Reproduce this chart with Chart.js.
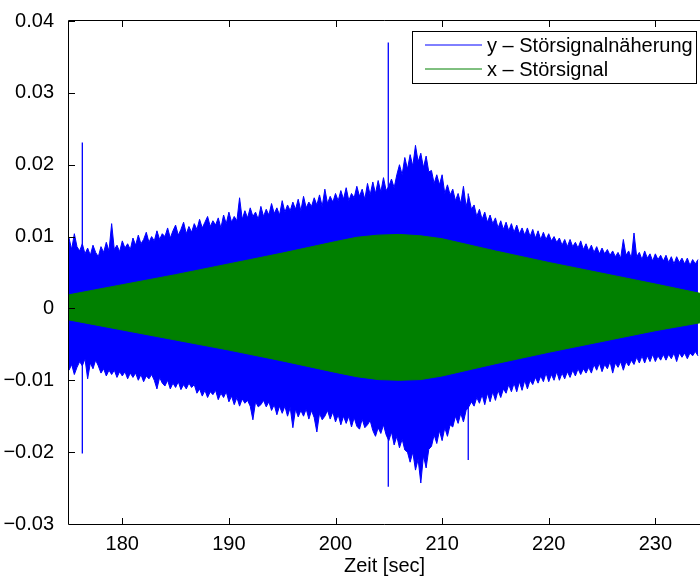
<!DOCTYPE html>
<html>
<head>
<meta charset="utf-8">
<script src="https://cdn.jsdelivr.net/npm/chart.js@4.4.1/dist/chart.umd.min.js"></script>
<style>
  html, body { margin: 0; padding: 0; background: #fff; }
  #wrap { width: 700px; height: 576px; }
</style>
</head>
<body>
<div id="wrap"><canvas id="signalChart"></canvas></div>
<script>
// y (Störsignalnäherung): upper / lower envelope, one row per second, 0.25 s steps
const sampleStart = 175;
const sampleStep = 0.25;
const blueTop = [
  0.0098, 0.0082, 0.0104, 0.0086,  // 175
  0.0080, 0.0090, 0.0076, 0.0084,
  0.0074, 0.0088, 0.0078, 0.0072,
  0.0086, 0.0078, 0.0092, 0.0080,
  0.0118, 0.0082, 0.0088, 0.0079,
  0.0094, 0.0084, 0.0090, 0.0082,  // 180
  0.0098, 0.0088, 0.0102, 0.0090,
  0.0096, 0.0106, 0.0092, 0.0100,
  0.0094, 0.0108, 0.0096, 0.0104,
  0.0100, 0.0112, 0.0098, 0.0108,
  0.0116, 0.0102, 0.0110, 0.0120,  // 185
  0.0104, 0.0114, 0.0106, 0.0118,
  0.0110, 0.0124, 0.0112, 0.0120,
  0.0128, 0.0114, 0.0122, 0.0116,
  0.0126, 0.0112, 0.0130, 0.0118,
  0.0134, 0.0120, 0.0128, 0.0122,  // 190
  0.0154, 0.0124, 0.0136, 0.0126,
  0.0140, 0.0128, 0.0134, 0.0124,
  0.0142, 0.0128, 0.0138, 0.0130,
  0.0146, 0.0132, 0.0140, 0.0130,
  0.0150, 0.0134, 0.0144, 0.0136,  // 195
  0.0148, 0.0138, 0.0152, 0.0136,
  0.0156, 0.0140, 0.0148, 0.0142,
  0.0154, 0.0144, 0.0158, 0.0142,
  0.0166, 0.0146, 0.0156, 0.0148,
  0.0160, 0.0150, 0.0164, 0.0152,  // 200
  0.0168, 0.0150, 0.0160, 0.0154,
  0.0170, 0.0156, 0.0166, 0.0152,
  0.0174, 0.0158, 0.0176, 0.0160,
  0.0178, 0.0162, 0.0182, 0.0164,
  0.0170, 0.0180, 0.0168, 0.0186,  // 205
  0.0200, 0.0186, 0.0210, 0.0194,
  0.0214, 0.0198, 0.0227, 0.0204,
  0.0216, 0.0196, 0.0212, 0.0190,
  0.0192, 0.0174, 0.0186, 0.0172,
  0.0186, 0.0160, 0.0172, 0.0158,  // 210
  0.0166, 0.0150, 0.0160, 0.0146,
  0.0170, 0.0142, 0.0156, 0.0138,
  0.0144, 0.0128, 0.0138, 0.0124,
  0.0134, 0.0120, 0.0130, 0.0118,
  0.0126, 0.0112, 0.0122, 0.0110,  // 215
  0.0120, 0.0108, 0.0118, 0.0106,
  0.0116, 0.0104, 0.0112, 0.0102,
  0.0112, 0.0100, 0.0110, 0.0098,
  0.0108, 0.0096, 0.0106, 0.0096,
  0.0104, 0.0094, 0.0100, 0.0092,  // 220
  0.0098, 0.0088, 0.0096, 0.0086,
  0.0096, 0.0086, 0.0092, 0.0084,
  0.0094, 0.0082, 0.0090, 0.0080,
  0.0088, 0.0078, 0.0086, 0.0076,
  0.0084, 0.0076, 0.0082, 0.0074,  // 225
  0.0080, 0.0072, 0.0078, 0.0070,
  0.0096, 0.0074, 0.0080, 0.0070,
  0.0105, 0.0072, 0.0078, 0.0068,
  0.0080, 0.0070, 0.0076, 0.0066,
  0.0076, 0.0068, 0.0074, 0.0066,  // 230
  0.0074, 0.0064, 0.0072, 0.0062,
  0.0072, 0.0064, 0.0070, 0.0062,
  0.0070, 0.0060, 0.0068, 0.0062,
  0.0068                           // 234
];
const blueBottom = [
  -0.0086, -0.0078, -0.0092, -0.0082,  // 175
  -0.0074, -0.0080, -0.0070, -0.0098,
  -0.0076, -0.0084, -0.0072, -0.0080,
  -0.0090, -0.0084, -0.0094, -0.0086,
  -0.0092, -0.0086, -0.0096, -0.0088,
  -0.0094, -0.0088, -0.0098, -0.0090,  // 180
  -0.0096, -0.0090, -0.0100, -0.0092,
  -0.0102, -0.0094, -0.0098, -0.0092,
  -0.0100, -0.0112, -0.0096, -0.0104,
  -0.0108, -0.0100, -0.0112, -0.0104,
  -0.0110, -0.0102, -0.0113, -0.0106,  // 185
  -0.0112, -0.0104, -0.0110, -0.0106,
  -0.0118, -0.0112, -0.0122, -0.0114,
  -0.0124, -0.0116, -0.0120, -0.0114,
  -0.0127, -0.0118, -0.0124, -0.0116,
  -0.0130, -0.0122, -0.0134, -0.0124,  // 190
  -0.0136, -0.0126, -0.0132, -0.0128,
  -0.0136, -0.0155, -0.0130, -0.0137,
  -0.0134, -0.0128, -0.0137, -0.0130,
  -0.0142, -0.0134, -0.0148, -0.0136,
  -0.0146, -0.0136, -0.0150, -0.0138,  // 195
  -0.0166, -0.0140, -0.0151, -0.0142,
  -0.0150, -0.0140, -0.0154, -0.0142,
  -0.0152, -0.0172, -0.0146, -0.0155,
  -0.0150, -0.0142, -0.0154, -0.0144,
  -0.0158, -0.0148, -0.0162, -0.0150,  // 200
  -0.0160, -0.0150, -0.0165, -0.0152,
  -0.0164, -0.0168, -0.0154, -0.0166,
  -0.0162, -0.0156, -0.0170, -0.0178,
  -0.0166, -0.0174, -0.0162, -0.0176,
  -0.0184, -0.0172, -0.0190, -0.0178,  // 205
  -0.0194, -0.0182, -0.0197, -0.0200,
  -0.0214, -0.0200, -0.0225, -0.0210,
  -0.0243, -0.0205, -0.0222, -0.0196,
  -0.0192, -0.0176, -0.0188, -0.0170,
  -0.0184, -0.0166, -0.0178, -0.0162,  // 210
  -0.0165, -0.0150, -0.0160, -0.0146,
  -0.0158, -0.0142, -0.0137, -0.0130,
  -0.0136, -0.0124, -0.0132, -0.0120,
  -0.0134, -0.0118, -0.0130, -0.0116,
  -0.0128, -0.0114, -0.0124, -0.0112,  // 215
  -0.0118, -0.0106, -0.0116, -0.0104,
  -0.0116, -0.0102, -0.0114, -0.0100,
  -0.0112, -0.0100, -0.0106, -0.0096,
  -0.0104, -0.0094, -0.0102, -0.0090,
  -0.0102, -0.0092, -0.0100, -0.0088,  // 220
  -0.0100, -0.0090, -0.0098, -0.0088,
  -0.0096, -0.0086, -0.0094, -0.0084,
  -0.0092, -0.0084, -0.0090, -0.0082,
  -0.0090, -0.0078, -0.0086, -0.0076,
  -0.0088, -0.0078, -0.0084, -0.0074,  // 225
  -0.0090, -0.0076, -0.0082, -0.0074,
  -0.0086, -0.0074, -0.0080, -0.0072,
  -0.0078, -0.0068, -0.0076, -0.0066,
  -0.0076, -0.0066, -0.0074, -0.0064,
  -0.0074, -0.0066, -0.0072, -0.0064,  // 230
  -0.0072, -0.0064, -0.0070, -0.0062,
  -0.0074, -0.0062, -0.0068, -0.0062,
  -0.0070, -0.0062, -0.0066, -0.0060,
  -0.0066                              // 234
];

// single outliers of y
const spikeTimes   = [176.25, 204.95, 212.45];
const spikeTops    = [0.0231, 0.0370, 0.0160];
const spikeBottoms = [-0.0202, -0.0248, -0.0211];

// x (Störsignal) envelope
const greenTime   = [175, 180, 185, 190, 195, 200, 202, 204, 206, 208, 210, 215, 220, 225, 230, 234.2];
const greenTop    = [0.0019, 0.0033, 0.0047, 0.0062, 0.0077, 0.0093, 0.0099, 0.0102, 0.0103, 0.0101, 0.0097, 0.0080, 0.0064, 0.0049, 0.0034, 0.0021];
const greenBottom = [-0.0016, -0.0030, -0.0044, -0.0058, -0.0073, -0.0089, -0.0095, -0.0099, -0.0100, -0.0099, -0.0094, -0.0077, -0.0061, -0.0046, -0.0031, -0.0020];

const xTicks = [180, 190, 200, 210, 220, 230];
const yTicks = [-0.03, -0.02, -0.01, 0, 0.01, 0.02, 0.03, 0.04];
const xMin = 175, xMax = 234.19;
const yMin = -0.03, yMax = 0.04;

const seriesNames = ['y \u2013 Störsignalnäherung', 'x \u2013 Störsignal'];
const BLUE = '#0000ff';
const GREEN = '#008000';

const sampleTime = blueTop.map((_, i) => sampleStart + i * sampleStep);
const toPoints = (xs, ys) => xs.map((x, i) => ({ x: x, y: ys[i] }));

const spikePoints = [];
spikeTimes.forEach((t, i) => {
  spikePoints.push({ x: t, y: spikeTops[i] }, { x: t, y: spikeBottoms[i] }, { x: t, y: null });
});

const font = { family: "'Liberation Sans', Arial, Helvetica, sans-serif", size: 20 };

const fmtY = v => {
  if (Math.abs(v) < 1e-9) return '0';
  return (v < 0 ? '\u2212' : '') + Math.abs(v).toFixed(2);
};

// box frame with inward tick marks, matlab style
const axisBox = {
  id: 'axisBox',
  afterDatasetsDraw(chart) {
    const { ctx, chartArea: a, scales: { x, y } } = chart;
    const len = 6;
    ctx.save();
    ctx.strokeStyle = '#000';
    ctx.lineWidth = 1;
    ctx.beginPath();
    ctx.moveTo(a.right + 1, a.top - 0.5);
    ctx.lineTo(a.left - 0.5, a.top - 0.5);
    ctx.lineTo(a.left - 0.5, a.bottom + 0.5);
    ctx.lineTo(a.right + 1, a.bottom + 0.5);
    xTicks.forEach(v => {
      const px = Math.round(x.getPixelForValue(v)) + 0.5;
      ctx.moveTo(px, a.bottom); ctx.lineTo(px, a.bottom - len);
      ctx.moveTo(px, a.top); ctx.lineTo(px, a.top + len);
    });
    yTicks.forEach(v => {
      const py = Math.round(y.getPixelForValue(v)) + 0.5;
      ctx.moveTo(a.left, py); ctx.lineTo(a.left + len, py);
    });
    ctx.stroke();
    ctx.restore();
  }
};

const legendBox = {
  id: 'legendBox',
  afterDraw(chart) {
    const ctx = chart.ctx;
    const box = { x: 412.5, y: 31.5, w: 284, h: 52 };
    const colors = [BLUE, GREEN];
    ctx.save();
    ctx.fillStyle = '#fff';
    ctx.fillRect(box.x, box.y, box.w, box.h);
    ctx.strokeStyle = '#000';
    ctx.lineWidth = 1;
    ctx.strokeRect(box.x, box.y, box.w, box.h);
    ctx.font = font.size + 'px ' + font.family;
    ctx.textBaseline = 'middle';
    ctx.fillStyle = '#000';
    seriesNames.forEach((name, i) => {
      const cy = box.y + 13.5 + i * 24;
      ctx.strokeStyle = colors[i];
      ctx.beginPath();
      ctx.moveTo(425, cy); ctx.lineTo(482, cy);
      ctx.stroke();
      ctx.fillText(name, 487, cy + 1);
    });
    ctx.restore();
  }
};

new Chart(document.getElementById('signalChart'), {
  type: 'line',
  data: {
    datasets: [
      {
        label: seriesNames[0],
        data: toPoints(sampleTime, blueTop),
        borderColor: BLUE, backgroundColor: BLUE, borderWidth: 1,
        pointRadius: 0, fill: 1, order: 2
      },
      {
        label: seriesNames[0],
        data: toPoints(sampleTime, blueBottom),
        borderColor: BLUE, backgroundColor: BLUE, borderWidth: 1,
        pointRadius: 0, fill: false, order: 2
      },
      {
        label: seriesNames[0],
        data: spikePoints,
        borderColor: BLUE, borderWidth: 1.3,
        pointRadius: 0, fill: false, spanGaps: false, order: 1
      },
      {
        label: seriesNames[1],
        data: toPoints(greenTime, greenTop),
        borderColor: GREEN, backgroundColor: GREEN, borderWidth: 1,
        pointRadius: 0, fill: 4, order: 0
      },
      {
        label: seriesNames[1],
        data: toPoints(greenTime, greenBottom),
        borderColor: GREEN, backgroundColor: GREEN, borderWidth: 1,
        pointRadius: 0, fill: false, order: 0
      }
    ]
  },
  options: {
    responsive: true,
    maintainAspectRatio: false,
    animation: false,
    layout: { padding: { top: 21, right: 0, left: 0, bottom: 0 } },
    elements: { line: { tension: 0 } },
    plugins: {
      legend: { display: false },
      tooltip: { enabled: false }
    },
    scales: {
      x: {
        type: 'linear',
        min: xMin, max: xMax,
        afterBuildTicks: s => { s.ticks = xTicks.map(v => ({ value: v })); },
        afterFit: s => { s.height = 52; },
        grid: { display: false },
        border: { display: false },
        ticks: { font: font, color: '#000', padding: 0, maxRotation: 0, autoSkip: false },
        title: { display: true, text: 'Zeit [sec]', font: font, color: '#000', padding: { top: 0, bottom: -2 } }
      },
      y: {
        type: 'linear',
        min: yMin, max: yMax,
        afterBuildTicks: s => { s.ticks = yTicks.map(v => ({ value: v })); },
        afterFit: s => { s.width = 69; },
        grid: { display: false },
        border: { display: false },
        ticks: { font: font, color: '#000', padding: 7, callback: fmtY, autoSkip: false }
      }
    }
  },
  plugins: [axisBox, legendBox]
});
</script>
</body>
</html>
